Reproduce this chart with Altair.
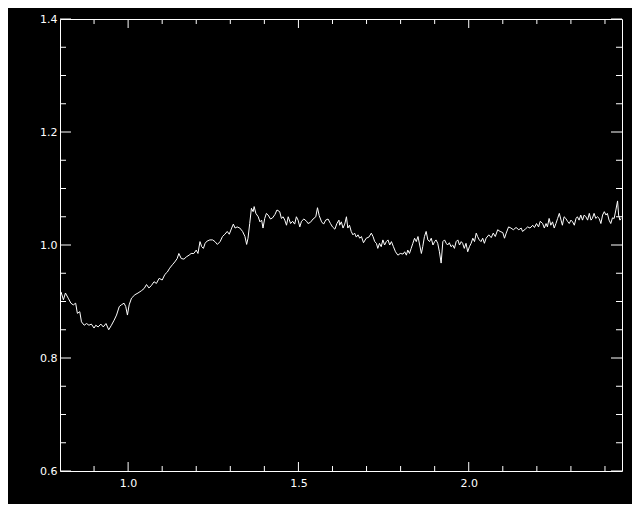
import altair as alt
import pandas as pd

# Spectrum
wavelength = [
    0.803, 0.810, 0.816, 0.824, 0.832, 0.839, 0.846, 0.851, 0.858, 0.863,
    0.871, 0.878, 0.885, 0.892, 0.900, 0.905, 0.912, 0.920, 0.927, 0.935,
    0.943, 0.951, 0.959, 0.966, 0.974, 0.980, 0.988, 0.993, 0.998, 1.003,
    1.010, 1.020, 1.029, 1.039, 1.047, 1.054, 1.061, 1.068, 1.076, 1.083,
    1.091, 1.100, 1.108, 1.115, 1.122, 1.130, 1.137, 1.144, 1.149, 1.156,
    1.164, 1.171, 1.179, 1.185, 1.193, 1.200, 1.205,
    1.211, 1.216, 1.221, 1.226, 1.232, 1.240, 1.248, 1.255, 1.262, 1.270,
    1.277, 1.284, 1.291, 1.297, 1.304, 1.309, 1.314, 1.320, 1.328, 1.336,
    1.343, 1.348, 1.352, 1.357, 1.362, 1.367, 1.370, 1.375, 1.382, 1.387,
    1.392, 1.396, 1.401, 1.406, 1.411, 1.418, 1.424, 1.431, 1.437, 1.445,
    1.450, 1.455, 1.460, 1.465, 1.470, 1.477, 1.483, 1.489, 1.494, 1.499,
    1.504, 1.509, 1.516, 1.524, 1.528, 1.535, 1.543, 1.551, 1.556, 1.561,
    1.568, 1.574, 1.580, 1.587, 1.594, 1.600, 1.607, 1.613, 1.619,
    1.621, 1.626, 1.631, 1.636, 1.641, 1.645, 1.650, 1.655, 1.660, 1.665,
    1.670, 1.675, 1.680, 1.685, 1.691, 1.699, 1.707, 1.714, 1.719, 1.724,
    1.729, 1.733, 1.738, 1.743, 1.748, 1.753, 1.758, 1.763, 1.768, 1.773,
    1.779, 1.785, 1.792, 1.799, 1.807, 1.812, 1.817, 1.821, 1.826, 1.831,
    1.836, 1.841, 1.846, 1.851, 1.856, 1.861, 1.865, 1.870, 1.875, 1.880,
    1.885, 1.890, 1.895, 1.900, 1.904, 1.909, 1.914, 1.919, 1.924, 1.929,
    1.934, 1.938, 1.943, 1.948, 1.953, 1.958, 1.963, 1.968, 1.973, 1.978,
    1.982, 1.987, 1.992, 1.997, 2.002, 2.007, 2.012, 2.017, 2.022, 2.026,
    2.031, 2.036, 2.041, 2.046, 2.051, 2.059, 2.066, 2.072, 2.078, 2.085,
    2.092, 2.100, 2.105, 2.110, 2.117, 2.124, 2.131, 2.139, 2.147, 2.154,
    2.158, 2.166, 2.173, 2.180, 2.188, 2.193, 2.199, 2.205, 2.210, 2.217,
    2.222, 2.227, 2.231, 2.236, 2.241, 2.246, 2.251, 2.256, 2.261, 2.266,
    2.271, 2.275, 2.280, 2.285, 2.290, 2.295, 2.300, 2.305, 2.310, 2.315,
    2.319, 2.324, 2.329, 2.334, 2.339, 2.344, 2.349, 2.354, 2.359, 2.363,
    2.368, 2.373, 2.378, 2.383, 2.388, 2.393, 2.398, 2.403, 2.407, 2.412,
    2.417, 2.422, 2.427, 2.432, 2.437, 2.440, 2.444, 2.447,
]
flux = [
    0.917, 0.903, 0.915, 0.906, 0.897, 0.894, 0.897, 0.879, 0.882, 0.864,
    0.858, 0.861, 0.858, 0.860, 0.853, 0.858, 0.855, 0.860, 0.855, 0.861,
    0.850, 0.858, 0.867, 0.876, 0.891, 0.894, 0.897, 0.891, 0.876, 0.894,
    0.906, 0.912, 0.915, 0.919, 0.923, 0.930, 0.924, 0.928, 0.935, 0.932,
    0.941, 0.938, 0.948, 0.952, 0.959, 0.965, 0.970, 0.976, 0.985, 0.976,
    0.975, 0.979, 0.982, 0.985, 0.985, 0.991, 0.985,
    1.006, 0.997, 0.994, 1.003, 1.007, 1.009, 1.009, 1.006, 1.001, 1.006,
    1.015, 1.019, 1.024, 1.019, 1.030, 1.037, 1.030, 1.032, 1.030, 1.024,
    1.015, 1.001, 1.012, 1.038, 1.065, 1.059, 1.068, 1.056, 1.050, 1.041,
    1.044, 1.030, 1.047, 1.056, 1.053, 1.046, 1.048, 1.054, 1.062, 1.059,
    1.047, 1.050, 1.044, 1.035, 1.050, 1.038, 1.042, 1.037, 1.050, 1.044,
    1.032, 1.042, 1.046, 1.042, 1.038, 1.040, 1.046, 1.050, 1.066, 1.052,
    1.041, 1.037, 1.044, 1.046, 1.038, 1.032, 1.028, 1.038, 1.044,
    1.035, 1.041, 1.030, 1.037, 1.050, 1.030, 1.035, 1.024, 1.018, 1.021,
    1.014, 1.018, 1.012, 1.015, 1.004, 1.012, 1.014, 1.021, 1.015, 1.006,
    1.003, 0.994, 1.003, 0.997, 1.009, 1.000, 1.006, 1.009, 1.000, 1.006,
    0.997, 0.988, 0.982, 0.985, 0.984, 0.988, 0.982, 0.991, 0.985, 0.994,
    1.003, 1.012, 1.006, 1.015, 1.000, 0.985, 0.997, 1.015, 1.024, 1.009,
    1.006, 1.012, 1.000, 1.006, 1.009, 1.003, 0.988, 0.968, 1.006, 1.009,
    1.003, 1.000, 1.004, 0.997, 1.000, 0.994, 1.006, 1.009, 1.000, 1.006,
    1.003, 0.994, 1.003, 0.988, 0.997, 1.003, 1.012, 1.006, 1.021, 1.015,
    1.009, 1.006, 1.012, 1.003, 1.012, 1.018, 1.013, 1.021, 1.015, 1.027,
    1.024, 1.022, 1.012, 1.021, 1.032, 1.030, 1.027, 1.031, 1.027, 1.030,
    1.024, 1.028, 1.032, 1.030, 1.035, 1.031, 1.038, 1.032, 1.042, 1.038,
    1.030, 1.038, 1.032, 1.047, 1.035, 1.041, 1.030, 1.038, 1.047, 1.056,
    1.044, 1.035, 1.050, 1.047, 1.042, 1.038, 1.044, 1.041, 1.035, 1.047,
    1.050, 1.044, 1.053, 1.044, 1.053, 1.050, 1.044, 1.056, 1.044, 1.047,
    1.056, 1.047, 1.050, 1.047, 1.038, 1.053, 1.059, 1.053, 1.056, 1.044,
    1.038, 1.048, 1.047, 1.062, 1.078, 1.053, 1.044, 1.047,
]

x_major = [1.0, 1.5, 2.0]
x_minor = [0.9, 1.1, 1.2, 1.3, 1.4, 1.6, 1.7, 1.8, 1.9, 2.1, 2.2, 2.3, 2.4]
y_major = [0.6, 0.8, 1.0, 1.2, 1.4]
y_minor = [0.65, 0.7, 0.75, 0.85, 0.9, 0.95, 1.05, 1.1, 1.15, 1.25, 1.3, 1.35]

W, H = 562, 452
XDOM = [0.8, 2.45]
YDOM = [0.6, 1.4]

df = pd.DataFrame({"x": wavelength, "y": flux})
xs = alt.Scale(domain=XDOM, nice=False, zero=False)
ys = alt.Scale(domain=YDOM, nice=False, zero=False)

line = alt.Chart(df).mark_line(color="white", strokeWidth=1, clip=True).encode(
    x=alt.X("x:Q", scale=xs, axis=alt.Axis(
        values=x_major, format=".1f", ticks=False, domain=False, grid=False,
        labelColor="white", labelFont="DejaVu Sans", labelFontSize=11,
        labelPadding=6, title=None)),
    y=alt.Y("y:Q", scale=ys, axis=alt.Axis(
        values=y_major, format=".1f", ticks=False, domain=False, grid=False,
        labelColor="white", labelFont="DejaVu Sans", labelFontSize=11,
        labelPadding=3, title=None)),
)


def xticks(vals, length):
    d = pd.DataFrame({"v": vals})
    base = alt.Chart(d).mark_rule(color="white", strokeWidth=1)
    bottom = base.encode(x=alt.X("v:Q", scale=xs), y=alt.value(H), y2=alt.value(H - length))
    top = base.encode(x=alt.X("v:Q", scale=xs), y=alt.value(0), y2=alt.value(length))
    return [bottom, top]


def yticks(vals, length):
    d = pd.DataFrame({"v": vals})
    base = alt.Chart(d).mark_rule(color="white", strokeWidth=1)
    left = base.encode(y=alt.Y("v:Q", scale=ys), x=alt.value(0), x2=alt.value(length))
    right = base.encode(y=alt.Y("v:Q", scale=ys), x=alt.value(W), x2=alt.value(W - length))
    return [left, right]


layers = [line] + xticks(x_major, 9) + xticks(x_minor, 5) + yticks(y_major, 11) + yticks(y_minor, 6)

chart = alt.layer(*layers).properties(
    width=W, height=H,
    background="black",
    padding={"left": 52, "top": 11, "right": 10, "bottom": 33},
    autosize=alt.AutoSizeParams(type="none"),
).configure_view(stroke="white", strokeWidth=1)

chart.save("out.html", embed_options={"renderer": "svg", "actions": False})
